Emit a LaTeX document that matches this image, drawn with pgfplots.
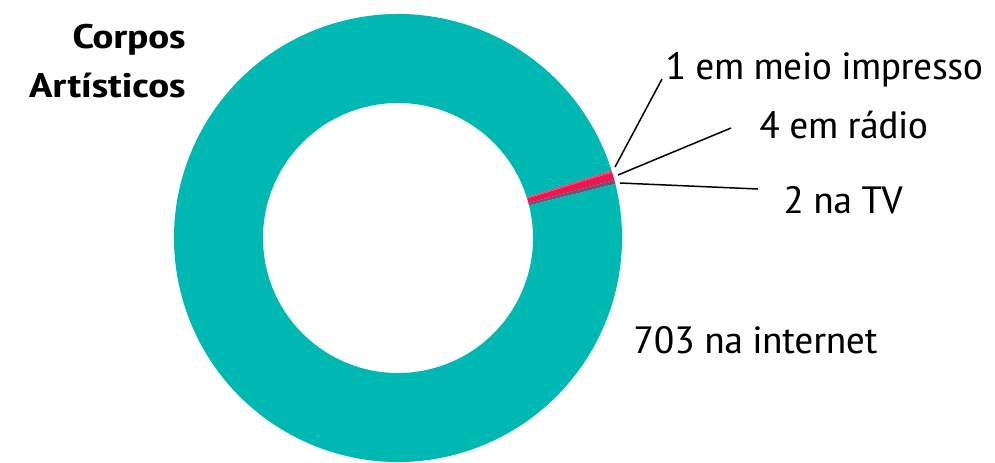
\documentclass[border=0pt]{standalone}
\usepackage{pgfplots}
\pgfplotsset{compat=1.18}
\usepackage{fontspec}
\setmainfont{PT Sans Narrow}[FakeStretch=1.2]
\newfontfamily\titlefont{PT Sans Narrow}[FakeStretch=1.38]
\definecolor{cteal}{HTML}{00B8B2}
\definecolor{cpink}{HTML}{EC1651}
\definecolor{cgray}{HTML}{5C5C74}
\definecolor{cprint}{HTML}{F0406E}
% values: internet, TV, radio, print
\def\vInternet{703}
\def\vTV{2}
\def\vRadio{4}
\def\vPrint{1}
\pgfmathsetmacro\total{\vInternet+\vTV+\vRadio+\vPrint}
\pgfmathsetmacro\aA{14.0}
\pgfmathsetmacro\aB{\aA+\vTV/\total*360}
\pgfmathsetmacro\aC{\aB+\vRadio/\total*360}
\pgfmathsetmacro\aD{\aC+\vPrint/\total*360}
\pgfmathsetmacro\aE{\aD+\vInternet/\total*360}
\def\Ro{112pt}
\def\Ri{67.5pt}
\def\Rw{44.5pt}
\newcommand\sector[3]{%
  \fill[#3] (axis cs:398,224) ++(#1:\Ro) arc[start angle=#1, end angle=#2, radius=\Ro]
    -- ++(#2+180:\Rw) arc[start angle=#2, end angle=#1, radius=\Ri] -- cycle;}
\begin{document}
\begin{tikzpicture}
\begin{axis}[name=ax, hide axis, x=0.5pt, y=0.5pt, xmin=0, xmax=995, ymin=0, ymax=462,
  enlargelimits=false, clip=true, scale only axis]
\sector{\aD}{\aE}{cteal}
\sector{\aA}{\aB}{cgray}
\sector{\aB}{\aC}{cpink}
\sector{\aC}{\aD}{cprint}
\draw[black, line width=0.75pt] (axis cs:615,295) -- (axis cs:662,383);
\draw[black, line width=0.75pt] (axis cs:618,287) -- (axis cs:731,334);
\draw[black, line width=0.75pt] (axis cs:620,279) -- (axis cs:758,273);
\node[anchor=base east, font=\fontsize{17}{20}\titlefont\bfseries, inner sep=0pt] at (axis cs:186,414) {Corpos};
\node[anchor=base east, font=\fontsize{17}{20}\titlefont\bfseries, inner sep=0pt] at (axis cs:186,365) {Artísticos};
\node[anchor=base west, font=\fontsize{19}{22}\selectfont, inner sep=0pt] at (axis cs:665,383) {1 em meio impresso};
\node[anchor=base west, font=\fontsize{19}{22}\selectfont, inner sep=0pt] at (axis cs:759,324) {4 em rádio};
\node[anchor=base west, font=\fontsize{19}{22}\selectfont, inner sep=0pt] at (axis cs:783,249) {2 na TV};
\node[anchor=base west, font=\fontsize{19}{22}\selectfont, inner sep=0pt] at (axis cs:633,109) {703 na internet};
\end{axis}
\pgfresetboundingbox
\path[use as bounding box] (ax.south west) rectangle (ax.north east);
\end{tikzpicture}
\end{document}
